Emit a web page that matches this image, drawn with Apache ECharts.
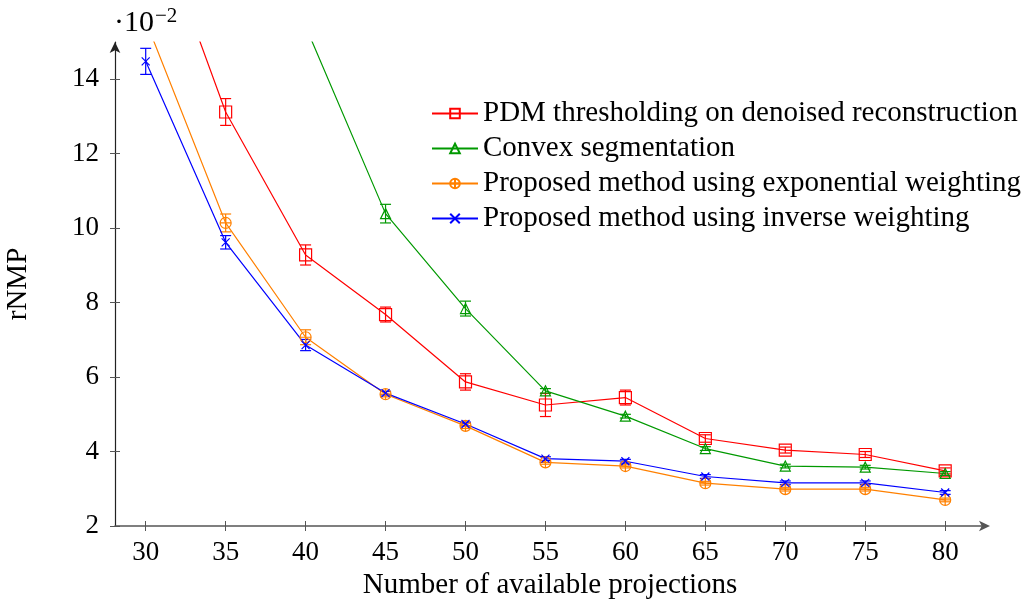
<!DOCTYPE html>
<html>
<head>
<meta charset="utf-8">
<script src="https://cdn.jsdelivr.net/npm/echarts@6/dist/echarts.min.js"></script>
<style>
	html, body { margin: 0; padding: 0; background: #fff; }
	#chart { width: 1029px; height: 605px; }
</style>
</head>
<body>
<div id="chart"></div>
<script>
// number of projections
var projections = [30, 35, 40, 45, 50, 55, 60, 65, 70, 75, 80];
var xTicks = [30, 35, 40, 45, 50, 55, 60, 65, 70, 75, 80];
var yTicks = [2, 4, 6, 8, 10, 12, 14];

// rNMP values (x 10^-2) and error bar half widths
var pdmVals = [19.0, 13.12, 9.28, 7.68, 5.87, 5.25, 5.45, 4.35, 4.04, 3.92, 3.48];
var pdmErr = [0.3, 0.36, 0.27, 0.2, 0.22, 0.31, 0.2, 0.1, 0.08, 0.08, 0.08];
var convexVals = [null, null, 15.42, 10.39, 7.84, 5.63, 4.95, 4.08, 3.61, 3.58, 3.41];
var convexErr = [null, null, 0.2, 0.25, 0.2, 0.06, 0.05, 0.05, 0.05, 0.05, 0.05];
var expVals = [15.57, 10.14, 7.07, 5.54, 4.69, 3.71, 3.61, 3.15, 2.99, 2.99, 2.70];
var expErr = [0.2, 0.24, 0.2, 0.07, 0.07, 0.05, 0.05, 0.05, 0.05, 0.05, 0.05];
var invVals = [14.48, 9.62, 6.86, 5.57, 4.74, 3.81, 3.74, 3.33, 3.16, 3.16, 2.90];
var invErr = [0.35, 0.18, 0.15, 0.05, 0.05, 0.05, 0.05, 0.05, 0.05, 0.05, 0.05];

var names = [
	'PDM thresholding on denoised reconstruction',
	'Convex segmentation',
	'Proposed method using exponential weighting',
	'Proposed method using inverse weighting'
];

var FONT = '"Liberation Serif", "DejaVu Serif", serif';
var chart = echarts.init(document.getElementById('chart'));

function pairs(vals) {
	return projections.map(function(x, i) {
		return [x, vals[i]];
	});
}

function errData(vals, err) {
	var out = [];
	projections.forEach(function(x, i) {
		if (vals[i] == null || err[i] == null) return;
		out.push([x, vals[i] - err[i], vals[i] + err[i]]);
	});
	return out;
}

function errSeries(vals, err, color) {
	return {
		type: 'custom',
		clip: true,
		silent: true,
		z: 3,
		data: errData(vals, err),
		encode: { x: 0, y: [1, 2] },
		renderItem: function(params, api) {
			var x = api.value(0);
			var lo = api.coord([x, api.value(1)]);
			var hi = api.coord([x, api.value(2)]);
			var w = 5.5;
			var st = { stroke: color, lineWidth: 1.2, fill: null };
			return {
				type: 'group',
				children: [
					{ type: 'line', shape: { x1: lo[0], y1: lo[1], x2: hi[0], y2: hi[1] }, style: st },
					{ type: 'line', shape: { x1: lo[0] - w, y1: lo[1], x2: lo[0] + w, y2: lo[1] }, style: st },
					{ type: 'line', shape: { x1: hi[0] - w, y1: hi[1], x2: hi[0] + w, y2: hi[1] }, style: st }
				]
			};
		}
	};
}

function lineSeries(name, vals, color, symbol, size) {
	return {
		name: name,
		type: 'line',
		data: pairs(vals),
		connectNulls: false,
		clip: true,
		z: 4,
		symbol: symbol,
		symbolSize: size,
		showAllSymbol: true,
		lineStyle: { color: color, width: 1.2 },
		itemStyle: { color: 'rgba(0,0,0,0)', borderColor: color, borderWidth: 1.2 },
		emphasis: { disabled: true }
	};
}

var circlePlus = 'path://M0,-1A1,1,0,1,1,0,1A1,1,0,1,1,0,-1ZM-1,0L1,0M0,-1L0,1';
var cross = 'path://M-1,-1L1,1M-1,1L1,-1';

var xBase = {
	type: 'value',
	min: 28.08,
	max: 82.49,
	axisLine: { show: true, lineStyle: { color: '#555', width: 1.5 }, symbol: ['none', 'arrow'], symbolSize: [8, 11], symbolOffset: [0, 5] },
	splitLine: { show: false }
};

var option = {
	animation: false,
	backgroundColor: '#fff',
	grid: { left: 115, right: 44, top: 42, bottom: 79, outerBoundsMode: 'none', containLabel: false },
	legend: {
		data: names,
		orient: 'vertical',
		left: 431,
		top: 96,
		padding: 0,
		itemGap: 0,
		itemWidth: 46,
		itemHeight: 12,
		selectedMode: false,
		textStyle: { fontFamily: FONT, fontSize: 29, color: '#000', lineHeight: 35 }
	},
	graphic: [{
		type: 'text',
		left: 114,
		top: 6,
		style: {
			text: '{b|·10}{s|−2}',
			rich: {
				b: { fontFamily: FONT, fontSize: 30, fill: '#000' },
				s: { fontFamily: FONT, fontSize: 21, fill: '#000', padding: [0, 0, 14, 1] }
			}
		}
	}],
	xAxis: [
		Object.assign({}, xBase, {
			position: 'bottom',
			name: 'Number of available projections',
			nameLocation: 'middle',
			nameGap: 42,
			nameTextStyle: { fontFamily: FONT, fontSize: 29, color: '#000' },
			axisTick: { show: true, inside: false, length: 5, customValues: xTicks, lineStyle: { color: '#555' } },
			axisLabel: { customValues: xTicks, fontFamily: FONT, fontSize: 27, color: '#000', margin: 13 }
		}),
		Object.assign({}, xBase, {
			position: 'bottom',
			axisLine: { show: false },
			axisTick: { show: true, inside: true, length: 5, customValues: xTicks, lineStyle: { color: '#555' } },
			axisLabel: { show: false }
		})
	],
	yAxis: [
		{
			type: 'value',
			position: 'left',
			min: 2,
			max: 15,
			name: 'rNMP',
			nameLocation: 'middle',
			nameGap: 82,
			nameTextStyle: { fontFamily: FONT, fontSize: 29, color: '#000' },
			axisLine: { show: true, lineStyle: { color: '#222', width: 1.2 }, symbol: ['none', 'arrow'], symbolSize: [8, 11] },
			axisTick: { show: true, inside: false, length: 5, customValues: yTicks, lineStyle: { color: '#555' } },
			axisLabel: { customValues: yTicks, fontFamily: FONT, fontSize: 27, color: '#000', margin: 16 },
			splitLine: { show: false }
		},
		{
			type: 'value',
			position: 'left',
			min: 2,
			max: 15,
			axisLine: { show: false },
			axisTick: { show: true, inside: true, length: 5, customValues: yTicks, lineStyle: { color: '#555' } },
			axisLabel: { show: false },
			splitLine: { show: false }
		}
	],
	series: [
		errSeries(pdmVals, pdmErr, '#ff0000'),
		errSeries(convexVals, convexErr, '#009900'),
		errSeries(expVals, expErr, '#ff8000'),
		errSeries(invVals, invErr, '#0000ff'),
		lineSeries(names[0], pdmVals, '#ff0000', 'rect', 12),
		lineSeries(names[1], convexVals, '#009900', 'triangle', 10),
		lineSeries(names[2], expVals, '#ff8000', circlePlus, 11),
		lineSeries(names[3], invVals, '#0000ff', cross, 8)
	]
};

chart.setOption(option);
</script>
</body>
</html>
